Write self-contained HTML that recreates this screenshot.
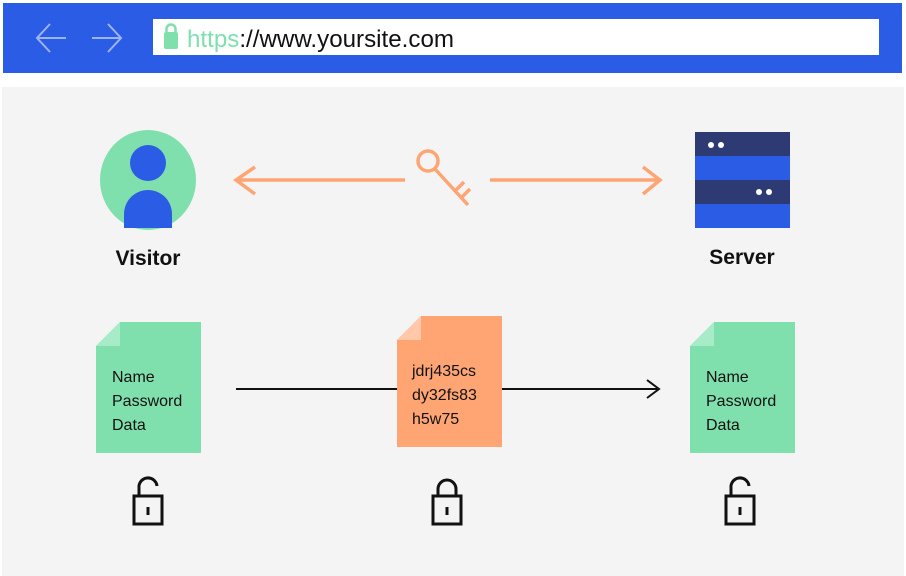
<!DOCTYPE html>
<html><head><meta charset="utf-8"><style>
html,body{margin:0;padding:0;background:#fff;}
svg{display:block;}
text{font-family:"Liberation Sans",sans-serif;}
</style></head><body>
<svg width="906" height="576" viewBox="0 0 906 576" xmlns="http://www.w3.org/2000/svg">
<rect x="0" y="0" width="906" height="576" fill="#fff"/>
<rect x="2" y="87" width="902" height="489" fill="#f4f4f4"/>
<rect x="3" y="3" width="899" height="70" fill="#2b5ce6"/>
<g stroke="#9db5f5" stroke-width="2" fill="none">
<path d="M66 38 H37 M50 24 L37 38 L50 52"/>
<path d="M92 38 H121 M108 24 L121 38 L108 52"/>
</g>
<rect x="153" y="19" width="726" height="36" fill="#fff"/>
<rect x="164" y="32" width="14" height="17" rx="2" fill="#7fe0ad"/>
<path d="M166.5 32 v-3 a4.5 4.5 0 0 1 9 0 v3" stroke="#7fe0ad" stroke-width="2.5" fill="none"/>
<text x="187" y="47" font-size="24" fill="#7fe0ad" textLength="267" lengthAdjust="spacingAndGlyphs">https<tspan fill="#111">://www.yoursite.com</tspan></text>
<ellipse cx="148" cy="180" rx="48" ry="50" fill="#7fe0ad"/>
<ellipse cx="148" cy="163" rx="18" ry="18" fill="#2b5ce6"/>
<path d="M124 228 V214 a24 24 0 0 1 48 0 V228 Z" fill="#2b5ce6"/>
<text x="148" y="265" font-size="21" font-weight="bold" text-anchor="middle" fill="#111">Visitor</text>
<rect x="695" y="132" width="95" height="96" fill="#2b5ce6"/>
<rect x="695" y="132" width="95" height="24" fill="#2d3a73"/>
<rect x="695" y="180" width="95" height="24" fill="#2d3a73"/>
<circle cx="711" cy="145" r="3" fill="#fff"/><circle cx="721" cy="145" r="3" fill="#fff"/>
<circle cx="759" cy="192" r="3" fill="#fff"/><circle cx="769" cy="192" r="3" fill="#fff"/>
<text x="742" y="264" font-size="21" font-weight="bold" text-anchor="middle" fill="#111">Server</text>
<g stroke="#ffa574" stroke-width="3.5" fill="none">
<path d="M405 180 H236 M255 167 L236 180 L255 194"/>
<path d="M490 180 H660 M643 167 L660 180 L643 194"/>
<circle cx="428" cy="161" r="10"/>
<path d="M435 169 L468 205 M455 191 L464 182 M461 198 L470 189"/>
</g>
<path d="M120 322 H201 V453 H96 V346 Z" fill="#7fe0ad"/>
<path d="M96 346 L120 322 V346 Z" fill="#a8ebc8"/>
<text font-size="16" fill="#111"><tspan x="112" y="382">Name</tspan><tspan x="112" y="406">Password</tspan><tspan x="112" y="430">Data</tspan></text>
<path d="M421 316 H502 V447 H397 V340 Z" fill="#ffa574"/>
<path d="M397 340 L421 316 V340 Z" fill="#ffc8a8"/>
<text font-size="16" fill="#111"><tspan x="412" y="376">jdrj435cs</tspan><tspan x="412" y="400">dy32fs83</tspan><tspan x="412" y="424">h5w75</tspan></text>
<path d="M714 322 H795 V453 H690 V346 Z" fill="#7fe0ad"/>
<path d="M690 346 L714 322 V346 Z" fill="#a8ebc8"/>
<text font-size="16" fill="#111"><tspan x="706" y="382">Name</tspan><tspan x="706" y="406">Password</tspan><tspan x="706" y="430">Data</tspan></text>
<g stroke="#111" stroke-width="2" fill="none">
<path d="M236 389 H397 M502 389 H659 M647 380 L659 389 L647 398"/>
</g>
<g stroke="#111" stroke-width="3" fill="none">
<rect x="134" y="496" width="28" height="28"/>
<path d="M139 496 v-8 a9 9 0 0 1 18 -2"/>
<path d="M148 507 v8"/>
<rect x="433" y="496" width="28" height="28"/>
<path d="M438 496 v-7 a9 9 0 0 1 18 0 v7"/>
<path d="M447 507 v8"/>
<rect x="726" y="496" width="28" height="28"/>
<path d="M731 496 v-8 a9 9 0 0 1 18 -2"/>
<path d="M740 507 v8"/>
</g>
</svg>
</body></html>
